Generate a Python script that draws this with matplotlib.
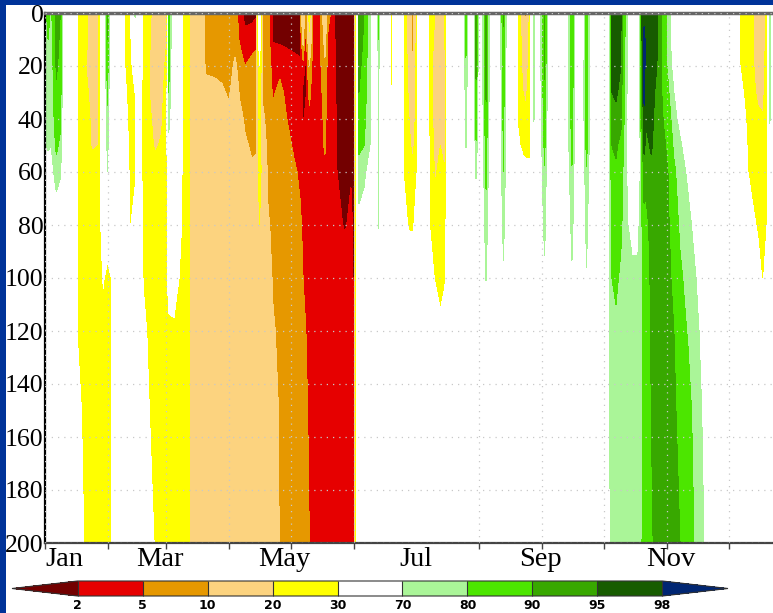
import numpy as np
import matplotlib
matplotlib.use("Agg")
import matplotlib.pyplot as plt
from matplotlib.colors import ListedColormap, BoundaryNorm
from matplotlib.patches import Rectangle

# percentile classes and their colours
levels = [2, 5, 10, 20, 30, 70, 80, 90, 95, 98]
band_colors = ['#e60000', '#e69800', '#fcd37f', '#ffff00', '#ffffff',
               '#aaf598', '#4ce600', '#38a800', '#175c00']
under_color = '#730000'
over_color = '#002673'

# depth levels (m) of each profile
depths = [0, 10, 20, 30, 40, 50, 60, 80, 100, 120, 150, 200]

N = [50, 50, 50, 50, 50, 50, 50, 50, 50, 50, 50, 50]  # neutral (30-70) profile

# day of year of each profile column
days = [0.0, 1.5, 3.0, 5.5, 7.5, 9.5, 14.0, 16.0, 20.0, 23.0, 26.0, 28.5, 30.5, 32.5, 34.0,
        37.0, 39.0, 41.5, 44.0, 45.5, 48.0, 51.0, 54.0, 57.0, 59.5, 60.5, 63.0, 65.5, 67.5,
        70.0, 71.8, 75.7, 78.7, 82.6, 86.5, 89.9, 92.8, 95.3, 97.7, 101.1, 103.1, 104.8,
        106.5, 109.0, 111.4, 114.8, 118.2, 121.7, 124.6, 126.1, 127.5, 129.2, 130.9, 133.9,
        136.8, 138.3, 140.7, 142.7, 146.6, 149.5, 151.0, 152.2, 153.4, 155.9, 158.8, 160.3,
        162.0, 163.0, 163.9, 167.6, 169.3, 171.0, 173.5, 175.4, 177.9, 179.8, 181.8, 183.2,
        186.2, 188.1, 190.6, 193.2, 195.4, 197.2, 198.9, 200.6, 202.3, 203.7, 205.7, 207.7,
        209.1, 210.6, 212.5, 215.5, 218.4, 221.3, 224.0, 226.7, 229.2, 231.1, 233.6, 235.0,
        237.0, 238.9, 240.6, 244.1, 246.7, 249.9, 251.6, 253.6, 257.5, 260.4, 261.9, 264.6,
        267.8, 273.1, 274.8, 277.0, 279.0, 281.4, 283.9, 286.8, 289.7, 291.7, 292.7, 293.7,
        296.2, 299.0, 302.0, 304.4, 307.3, 310.3, 314.2, 318.1, 322.0, 324.9, 336.7, 339.6,
        343.5, 345.4, 348.4, 350.8, 352.8, 354.2, 355.7, 365.0]

# percentile value of each column at the depth levels above
profiles = [
    [76, 75, 73, 72, 71, 69, 62, 50, 40, 31, 26, 25],
    [84, 80, 77, 75, 73, 71, 66, 50, 50, 50, 50, 50],
    [78, 76, 74, 73, 72, 70, 64, 50, 50, 50, 50, 50],
    [93, 92, 91, 89, 86, 82, 76, 60, 50, 50, 50, 50],
    [90, 89, 88, 86, 82, 78, 72, 55, 50, 50, 50, 50],
    N,
    N,
    [26, 26, 26, 26, 26, 26, 26, 27, 28, 29, 35, 45],
    [22, 22, 20, 22, 24, 24, 24, 24, 24, 24, 24, 25],
    [15, 15, 16, 17, 18, 19, 24, 24, 24, 24, 24, 24],
    [15, 16, 17, 18, 19, 20, 24, 24, 24, 24, 24, 24],
    [50, 50, 48, 46, 44, 42, 40, 36, 31, 26, 24, 24],
    [92, 90, 86, 82, 78, 74, 70, 40, 26, 24, 24, 25],
    [50, 50, 50, 50, 50, 50, 50, 40, 30, 27, 27, 28],
    N,
    N,
    [29, 29, 30, 33, 36, 40, 44, 50, 50, 50, 50, 50],
    [22, 22, 23, 24, 25, 26, 27, 29, 40, 50, 50, 50],
    [72, 60, 40, 30, 27, 27, 28, 35, 50, 50, 50, 50],
    [55, 50, 50, 48, 46, 44, 42, 38, 50, 50, 50, 50],
    [24, 24, 24, 24, 24, 25, 26, 28, 29, 34, 45, 50],
    [22, 21, 20, 20, 21, 22, 24, 25, 26, 27, 30, 40],
    [15, 15, 16, 17, 18, 19, 23, 24, 25, 25, 25, 27],
    [16, 16, 17, 18, 19, 21, 24, 25, 26, 25, 24, 24],
    [20, 20, 22, 24, 25, 26, 27, 28, 29, 27, 25, 24],
    [88, 86, 83, 80, 74, 66, 50, 45, 34, 28, 26, 24],
    [50, 50, 50, 50, 50, 50, 48, 45, 36, 28, 26, 25],
    [45, 45, 44, 43, 42, 40, 38, 35, 30, 26, 25, 24],
    [28, 27, 27, 27, 27, 27, 27, 27, 27, 26, 25, 24],
    [24, 24, 24, 24, 24, 24, 24, 24, 24, 24, 24, 24],
    [15, 15, 15, 15, 15, 15, 15, 15, 15, 15, 15, 15],
    [14, 14, 15, 15, 15, 15, 15, 15, 15, 15, 15, 15],
    [8, 8, 9, 12, 15, 15, 15, 15, 15, 15, 15, 15],
    [7, 7, 8.5, 12, 14, 15, 15, 15, 15, 15, 15, 15],
    [7, 7, 8, 11, 15, 15, 15, 15, 15, 15, 15, 15],
    [7, 7, 7.5, 9, 12, 15, 15, 15, 15, 15, 15, 15],
    [7, 8, 11, 14, 15, 15, 15, 15, 15, 15, 15, 15],
    [3, 4, 8, 9, 12, 15, 15, 15, 15, 15, 15, 15],
    [1, 3, 5, 8, 9, 11, 14, 15, 15, 15, 15, 15],
    [1, 3.5, 6, 8, 8.5, 9, 11, 14, 15, 15, 15, 15],
    [1.5, 4, 6.5, 8, 9, 9.5, 11, 14, 15, 15, 15, 15],
    [45, 38, 30, 27, 26, 25, 24, 20, 16, 15, 15, 15],
    [7, 7.5, 8, 9, 11, 13, 15, 15, 15, 15, 15, 15],
    [6, 6.5, 7, 7.5, 8, 8.5, 9, 10.5, 12, 13, 14, 15],
    [1, 1.8, 3.5, 4.5, 6, 7.5, 8, 9, 9.5, 10.5, 12, 14],
    [1, 1.5, 4, 6, 7, 7.5, 8, 8, 8, 9, 9.5, 9.5],
    [1, 1.5, 3, 4, 5, 6, 7, 8, 8, 8, 8, 8],
    [1, 1.5, 2.5, 3.5, 4, 4.5, 5.5, 7, 7.5, 8, 8, 8],
    [1, 1, 2.5, 3.5, 3.5, 4, 4.5, 5.5, 6, 7, 7.5, 8],
    [20, 12, 3, 1.5, 1.8, 3, 3.5, 4.5, 5, 5.5, 6, 7],
    [1, 1.5, 1.5, 1.8, 2.5, 3.5, 3.5, 4, 4.5, 5, 5.5, 6],
    [25, 18, 10, 6, 4, 3.5, 3.5, 3.5, 4, 4.5, 4.5, 5],
    [3, 3, 3, 3, 3, 3, 3, 3, 3.5, 3.5, 3.5, 3.5],
    [3, 3, 3, 3, 3, 3, 3, 3, 3, 3, 3, 3],
    [15, 12, 9, 7, 6, 5.5, 4, 3, 3, 3, 3, 3],
    [7, 4, 3, 3, 3, 3, 3, 3, 3, 3, 3, 3],
    [3, 3, 3, 3, 3, 3, 3, 3, 3, 3, 3, 3],
    [1, 1, 1.2, 1.5, 1.8, 1.8, 2, 2.5, 3, 3, 3, 3],
    [1, 1, 1, 1, 1, 1.2, 1.4, 1.8, 3, 3, 3, 3],
    [1, 1, 1.2, 1.4, 1.5, 1.6, 1.8, 2.5, 3, 3, 3, 3],
    [1.5, 1.5, 1.5, 1.5, 1.5, 1.5, 1.5, 1.5, 1.5, 1.5, 1.5, 1.5],
    [25, 25, 25, 25, 25, 25, 25, 25, 25, 25, 25, 25],
    [94, 93, 92, 90, 87, 82, 76, 66, 50, 50, 50, 50],
    [90, 89, 87, 85, 83, 80, 74, 60, 50, 50, 50, 50],
    [74, 73, 72, 72, 71, 70, 60, 50, 50, 50, 50, 50],
    N,
    N,
    [84, 80, 76, 74, 72, 72, 71, 71, 55, 50, 50, 50],
    N,
    N,
    [24, 24, 25, 27, 31, 40, 50, 50, 50, 50, 50, 50],
    N,
    N,
    [28, 27, 27, 27, 28, 28.5, 29, 35, 50, 50, 50, 50],
    [12, 14, 16, 18, 20, 22, 25, 28, 45, 50, 50, 50],
    [8, 8, 9, 9.5, 12, 17, 22, 27, 50, 50, 50, 50],
    [24, 24, 25, 26, 27, 28, 30, 40, 50, 50, 50, 50],
    N,
    [40, 40, 40, 40, 42, 44, 46, 50, 50, 50, 50, 50],
    [24, 24, 24, 24, 25, 26, 27, 29, 40, 50, 50, 50],
    [20, 18, 16, 15.5, 16, 17, 19, 24, 28, 50, 50, 50],
    [8, 10, 14, 16, 18, 20, 22, 25, 27, 32, 50, 50],
    [22, 20, 18, 17, 17, 18, 20, 24, 28, 40, 50, 50],
    [45, 45, 45, 45, 45, 45, 45, 45, 45, 50, 50, 50],
    N,
    [28, 28, 28, 28, 28, 28, 28, 28, 29, 50, 50, 50],
    N,
    N,
    [84, 82, 79, 76, 73, 71, 60, 50, 50, 50, 50, 50],
    N,
    N,
    [94, 93, 92, 88, 84, 79, 72, 55, 50, 50, 50, 50],
    N,
    [94, 93, 92, 91, 88, 85, 82, 76, 71, 50, 50, 50],
    N,
    N,
    [92, 88, 86, 84, 83, 82, 80, 74, 68, 50, 50, 50],
    N,
    N,
    [26, 26, 27, 28, 29, 32, 40, 50, 50, 50, 50, 50],
    [15, 16, 17, 20, 23, 27, 35, 50, 50, 50, 50, 50],
    [7, 10, 14, 18, 22, 27, 33, 50, 50, 50, 50, 50],
    [24, 24, 25, 26, 27, 28, 32, 50, 50, 50, 50, 50],
    [72, 72, 71, 71, 70.5, 65, 50, 50, 50, 50, 50, 50],
    N,
    [93, 92, 91, 89, 86, 83, 79, 74, 67, 50, 50, 50],
    N,
    N,
    [24, 24, 25, 27, 31, 40, 50, 50, 50, 50, 50, 50],
    N,
    [89, 88, 87, 86, 85, 83, 79, 74, 68, 50, 50, 50],
    N,
    N,
    [86, 86, 87, 88, 87, 84, 79, 74, 69, 50, 50, 50],
    N,
    N,
    [50, 50, 50, 50, 50, 50, 50, 55, 58, 62, 64, 64],
    [97, 97, 96, 95, 93, 90, 88, 84, 80, 77, 75, 74],
    [97.8, 97, 96.5, 95.5, 94, 91, 89, 86, 82, 78, 76, 75],
    [96, 95, 95, 94, 92, 88, 85, 82, 78, 76, 75, 74],
    [78, 76, 75, 74, 73, 72, 72, 72, 73, 74, 74, 74],
    [50, 50, 50, 50, 50, 50, 52, 66, 73, 74, 74, 74],
    [50, 50, 50, 50, 50, 50, 52, 66, 73, 74, 75, 75],
    [95, 95, 94, 93, 91, 88, 84, 80, 78, 77, 78, 80],
    [97.5, 98.5, 99, 98.5, 97.5, 96, 93, 88, 85, 84, 84, 84],
    [97.8, 97.5, 97, 96, 95.5, 94, 92, 88, 87, 86, 86, 86],
    [97.5, 97, 97, 96.5, 96, 95.5, 94, 92, 91, 90.5, 90, 89],
    [96, 95.5, 95, 94, 93.5, 93, 93, 92, 92, 92, 92, 92],
    [88, 88, 88, 89, 90, 91, 92, 92, 92, 92, 92, 92],
    [75, 76, 78, 82, 86, 89, 90, 91, 91, 91, 91, 91],
    [60, 62, 65, 70, 74, 78, 82, 86, 89, 90, 91, 91],
    [50, 52, 55, 60, 66, 72, 75, 78, 82, 85, 88, 90],
    [50, 50, 50, 52, 56, 62, 68, 73, 76, 79, 84, 86],
    [50, 50, 50, 50, 50, 54, 60, 66, 70, 73, 75, 78],
    [50, 50, 50, 50, 50, 50, 50, 55, 60, 65, 68, 70],
    N,
    N,
    [27, 28, 30, 33, 38, 44, 50, 50, 50, 50, 50, 50],
    [24, 24, 25, 26, 27, 28, 30, 40, 50, 50, 50, 50],
    [22, 22, 22, 23, 24, 26, 28, 32, 40, 50, 50, 50],
    [15, 15, 16, 18, 22, 25, 27, 29, 33, 50, 50, 50],
    [14, 14, 15, 17, 21, 24, 26, 27, 29, 45, 50, 50],
    [25, 25, 26, 27, 28, 29, 29, 30, 35, 50, 50, 50],
    [75, 74, 73, 72, 71, 65, 55, 50, 50, 50, 50, 50],
    N,
    N,
]

month_starts = [0, 31, 59, 90, 120, 151, 181, 212, 243, 273, 304, 334]
month_labels = ['Jan', 'Mar', 'May', 'Jul', 'Sep', 'Nov']
label_days = [9.5, 56, 117, 181, 242, 306]
depth_ticks = [0, 20, 40, 60, 80, 100, 120, 140, 160, 180, 200]

W, H = 773, 613
fig = plt.figure(figsize=(W / 100, H / 100), dpi=100)
fig.patch.set_facecolor('#003399')
fig.patches.append(Rectangle((6 / W, 0), 1, 1 - 5 / H, transform=fig.transFigure,
                             facecolor='white', edgecolor='none', zorder=-1))

ax = fig.add_axes([45 / W, 1 - 543 / H, 747 / W, 530 / H])

cmap = ListedColormap(band_colors)
cmap.set_under(under_color)
cmap.set_over(over_color)
norm = BoundaryNorm(levels, cmap.N)

Z = np.array(profiles, dtype=float).T
cf = ax.contourf(days, depths, Z, levels=levels, cmap=cmap, norm=norm, extend='both')

ax.set_xlim(0, 365)
ax.set_ylim(200, 0)

serif = 'Liberation Serif'
ax.set_xticks(month_starts, minor=True)
ax.set_xticks(label_days)
ax.set_xticklabels(month_labels, fontfamily=serif, fontsize=20.5)
ax.tick_params(axis='x', which='major', length=0, pad=3)
ax.tick_params(axis='x', which='minor', length=4, width=1, color='#444444', direction='out')
ax.set_yticks(depth_ticks)
ax.set_yticklabels([str(d) for d in depth_ticks], fontfamily=serif, fontsize=18.5)
ax.tick_params(axis='y', length=0, pad=1)

ax.set_axisbelow(False)
ax.grid(True, axis='x', which='minor', linestyle=(0, (1, 4)), color='#c8c8c8', lw=0.9)
ax.grid(True, axis='y', which='major', linestyle=(0, (1, 4)), color='#c8c8c8', lw=0.9)

ax.spines['left'].set_color('black')
ax.spines['left'].set_linewidth(1.6)
ax.spines['bottom'].set_color('#444444')
ax.spines['bottom'].set_linewidth(1.6)
ax.spines['top'].set_color('#666666')
ax.spines['top'].set_linewidth(2.5)

cax = fig.add_axes([12 / W, 1 - 596 / H, 716 / W, 15 / H])
cb = fig.colorbar(cf, cax=cax, orientation='horizontal', extendfrac=0.112,
                  drawedges=True, ticks=levels)
cb.outline.set_edgecolor('#333333')
cb.outline.set_linewidth(0.8)
cb.dividers.set_color('#333333')
cb.dividers.set_linewidth(0.8)
cb.ax.tick_params(length=0, pad=2)
cb.ax.set_xticklabels([str(v) for v in levels], fontsize=9, fontfamily='DejaVu Sans',
                      fontweight='bold')

fig.savefig('out.png', dpi=100, facecolor=fig.get_facecolor())
